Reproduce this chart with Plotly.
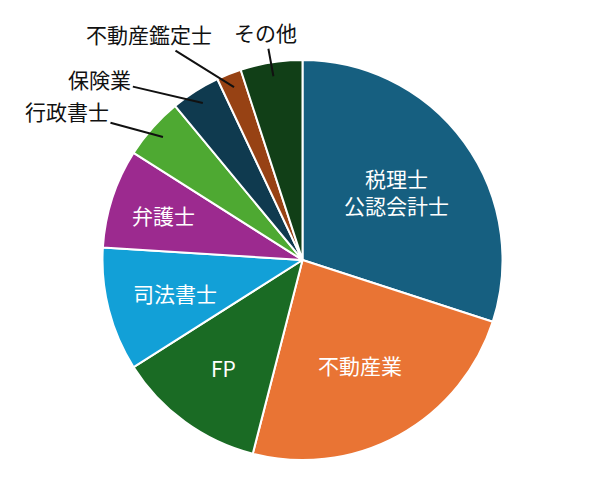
import math
import plotly.graph_objects as go

# 業種別の割合 (%)
labels = ['税理士<br>公認会計士', '不動産業', 'FP', '司法書士', '弁護士',
          '行政書士', '保険業', '不動産鑑定士', 'その他']
values = [30, 24, 12, 10, 8, 5, 4, 2, 5]
colors = ['#165f80', '#e97434', '#1a6b24', '#12a0d7', '#9c2a8f',
          '#4ea932', '#0f3a4f', '#974214', '#113f17']

W, H = 600, 500
# ページ余白 (body margin 8px) を差し引いた中心位置
CX, CY, R = 302.5 - 8, 260 - 8, 200

fig = go.Figure()
fig.add_trace(go.Pie(labels=labels, values=values, sort=False,
                     direction='clockwise', rotation=0,
                     marker=dict(colors=colors, line=dict(color='white', width=2)),
                     textinfo='none', hoverinfo='label+percent',
                     domain=dict(x=[(CX - R) / W, (CX + R) / W],
                                 y=[(H - CY - R) / H, (H - CY + R) / H])))

# ラベルの配置 (内側: 半径比, 外側: テキストのずらし量)
inside_r = {0: 0.58, 1: 0.60, 2: 0.67, 3: 0.66, 4: 0.73}
outside_off = {5: (-96, -26), 6: (-103, -24), 7: (-85, -53), 8: (-8, -44)}

total = sum(values)
start = 0.0
font = 'Noto Sans CJK JP'
for i, v in enumerate(values):
    mid = (start + v / 2) / total * 2 * math.pi
    start += v
    if i in inside_r:
        r = inside_r[i] * R
        px, py = CX + r * math.sin(mid), CY - r * math.cos(mid)
        fig.add_annotation(x=px / W, y=1 - py / H, xref='paper', yref='paper',
                           xanchor='center', yanchor='middle',
                           text=labels[i], showarrow=False,
                           font=dict(family=font, size=21, color='white'))
    else:
        r = 0.93 * R
        px, py = CX + r * math.sin(mid), CY - r * math.cos(mid)
        ax, ay = outside_off[i]
        fig.add_annotation(x=px / W, y=1 - py / H, xref='paper', yref='paper',
                           text=labels[i], showarrow=True, arrowhead=0,
                           arrowwidth=2, arrowcolor='#111', ax=ax, ay=ay,
                           font=dict(family=font, size=21, color='#111'))

fig.update_layout(width=W, height=H, showlegend=False,
                  margin=dict(l=0, r=0, t=0, b=0),
                  paper_bgcolor='white', plot_bgcolor='white')

fig.write_html('out.html')
